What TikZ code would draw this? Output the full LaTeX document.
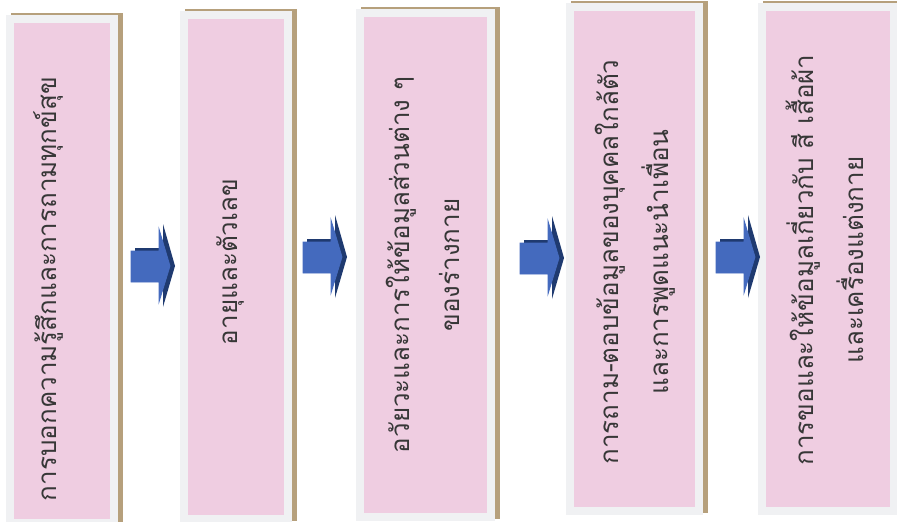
\documentclass[tikz,border=0pt]{standalone}
\usepackage{fontspec}
\newfontfamily\thaifont[Script=Thai]{Loma}
\usetikzlibrary{calc}

\definecolor{boxpink}{RGB}{239,205,225}
\definecolor{framegray}{RGB}{240,241,243}
\definecolor{shadowtan}{RGB}{182,160,124}
\definecolor{arrowlight}{RGB}{172,193,236}
\definecolor{arrowmid}{RGB}{68,106,190}
\definecolor{arrowdark}{RGB}{31,58,112}
\definecolor{textgray}{RGB}{55,55,55}

\tikzset{
  steptext/.style={rotate=90,font=\thaifont\fontsize{26}{50}\selectfont,
    text=textgray,align=center,inner sep=0pt},
  arrowfront/.style={draw=arrowmid,line width=0.8pt,left color=arrowmid,
    middle color=arrowlight,right color=arrowmid}
}

\begin{document}
\begin{tikzpicture}[x=1pt,y=-1pt]
    \useasboundingbox (0,0) rectangle (897,522);
    %%%%%%%%%%%%%%%%%%%%%%%%%%%%%%%%%%%%%%%% boxes
    \foreach \l/\t/\r/\b in {6/15/118/527,180/11/292/523,356/9/495/521,566/3/703/515,758/3/898/515}
    {
        \fill[shadowtan] (\l+5,\t-2) rectangle (\r+5,\b-2);
        \fill[framegray] (\l,\t) rectangle (\r,\b);
        \fill[boxpink] (\l+8,\t+8) rectangle (\r-8,\b-8);
    }
    %%%%%%%%%%%%%%%%%%%%%%%%%%%%%%%%%%%%%%%% arrows
    \foreach \ax/\ay in {131/266,303/257,520/258,716/257}
    {
        \fill[arrowdark] (\ax+4,\ay-18) -- (\ax+32,\ay-18) -- (\ax+32,\ay-42) -- (\ax+44,\ay)
            -- (\ax+32,\ay+41) -- (\ax+32,\ay+14) -- (\ax+4,\ay+14) -- cycle;
        \path[arrowfront] (\ax,\ay-15) -- (\ax+28,\ay-15) -- (\ax+28,\ay-37) -- (\ax+39,\ay)
            -- (\ax+28,\ay+36) -- (\ax+28,\ay+16) -- (\ax,\ay+16) -- cycle;
    }
    %%%%%%%%%%%%%%%%%%%%%%%%%%%%%%%%%%%%%%%% texts
    \node[steptext] (feel) at (48,289) {การบอกความรู้สึกและการถามทุกข์สุข};
    \node[steptext] (age) at (230,262) {อายุและตัวเลข};
    \node[steptext] (body) at (423,265) {อวัยวะและการให้ข้อมูลส่วนต่าง ๆ\\ของร่างกาย};
    \node[steptext] (people) at (635,262) {การถาม-ตอบข้อมูลของบุคคลใกล้ตัว\\และการพูดแนะนำเพื่อน};
    \node[steptext] (dress) at (825,260) {การขอและให้ข้อมูลเกี่ยวกับ สี เสื้อผ้า\\และเครื่องแต่งกาย};
\end{tikzpicture}
\end{document}
